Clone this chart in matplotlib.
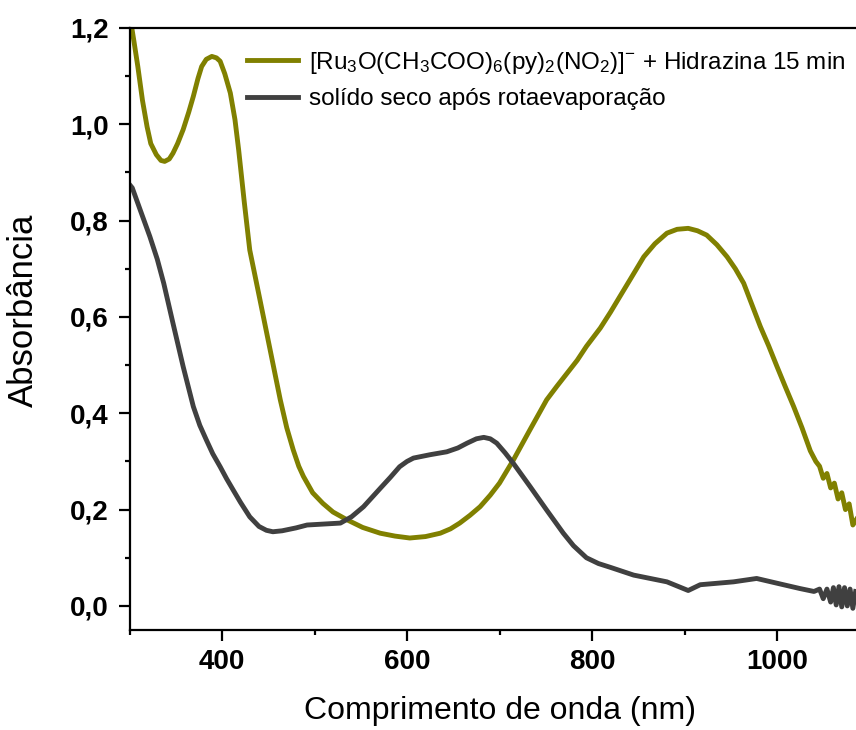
import numpy as np
import matplotlib
matplotlib.use('Agg')
import matplotlib.pyplot as plt
from matplotlib.ticker import MultipleLocator, FuncFormatter

plt.rcParams['font.family'] = ['Liberation Sans', 'DejaVu Sans']
plt.rcParams['mathtext.fontset'] = 'custom'
plt.rcParams['mathtext.rm'] = 'Liberation Sans'
plt.rcParams['mathtext.it'] = 'Liberation Sans:italic'
plt.rcParams['mathtext.bf'] = 'Liberation Sans:bold'

# Espectro 1: complexo + hidrazina 15 min
wl_hidrazina = [300, 305, 309, 314, 319, 323, 329, 334, 338, 343, 347, 352, 358, 364,
                369, 374, 378, 383, 389, 394, 398, 403, 409, 414, 418, 424, 430, 441,
                452, 463, 470, 477, 483, 488, 498, 509, 520, 535, 552, 571, 587, 603,
                620, 636, 647, 657, 668, 679, 690, 700, 715, 733, 751, 762, 773, 784,
                794, 809, 820, 830, 841, 856, 868, 881, 892, 904, 914, 924, 935, 946,
                955, 964, 973, 982, 991, 1000, 1009, 1018, 1027, 1036, 1042, 1046,
                1050, 1054, 1058, 1062, 1066, 1070, 1074, 1078, 1082, 1086]
abs_hidrazina = [1.23, 1.17, 1.12, 1.05, 0.995, 0.96, 0.937, 0.925, 0.923, 0.928, 0.94,
                 0.96, 0.989, 1.025, 1.058, 1.095, 1.12, 1.135, 1.141, 1.138, 1.131,
                 1.105, 1.065, 1.01, 0.947, 0.84, 0.739, 0.636, 0.532, 0.428, 0.37,
                 0.324, 0.29, 0.269, 0.235, 0.213, 0.195, 0.179, 0.163, 0.151, 0.145,
                 0.141, 0.144, 0.151, 0.16, 0.172, 0.188, 0.206, 0.23, 0.255, 0.303,
                 0.366, 0.428, 0.456, 0.483, 0.51, 0.539, 0.577, 0.61, 0.642, 0.677,
                 0.725, 0.752, 0.774, 0.782, 0.784, 0.779, 0.77, 0.75, 0.725, 0.70,
                 0.67, 0.625, 0.58, 0.54, 0.497, 0.455, 0.414, 0.37, 0.322, 0.30,
                 0.29, 0.265, 0.275, 0.245, 0.255, 0.222, 0.235, 0.20, 0.212, 0.168,
                 0.18]

# Espectro 2: solido seco apos rotaevaporacao
wl_solido = [300, 303, 312, 322, 330, 337, 347, 358, 369, 376, 383, 390, 398, 405,
             412, 420, 430, 440, 448, 455, 465, 480, 492, 510, 528, 540, 553, 562,
             571, 582, 592, 600, 607, 625, 643, 655, 665, 675, 683, 690, 697, 706,
             715, 733, 751, 769, 780, 794, 807, 820, 845, 881, 904, 917, 953, 978,
             1007, 1025, 1040, 1046, 1050, 1054, 1058, 1061, 1064, 1067, 1070, 1073,
             1076, 1079, 1082, 1085]
abs_solido = [0.875, 0.868, 0.82, 0.767, 0.72, 0.67, 0.587, 0.497, 0.414, 0.375, 0.345,
              0.316, 0.289, 0.264, 0.241, 0.215, 0.185, 0.165, 0.157, 0.154, 0.156,
              0.162, 0.168, 0.17, 0.172, 0.185, 0.206, 0.225, 0.244, 0.267, 0.289,
              0.30, 0.307, 0.314, 0.32, 0.328, 0.338, 0.347, 0.35, 0.347, 0.338,
              0.318, 0.296, 0.248, 0.199, 0.151, 0.125, 0.10, 0.088, 0.08, 0.064,
              0.05, 0.032, 0.044, 0.05, 0.057, 0.044, 0.036, 0.03, 0.035, 0.015,
              0.035, 0.008, 0.038, 0.002, 0.04, -0.002, 0.038, 0.0, 0.035, -0.005,
              0.03]

label_hidrazina = (r'[Ru$_3$O(CH$_3$COO)$_6$(py)$_2$(NO$_2$)]$^{-}$'
                   ' + Hidrazina 15 min')
label_solido = 'solído seco após rotaevaporação'

fig = plt.figure(figsize=(8.56, 7.30), dpi=100)
ax = fig.add_axes([129.5 / 856, 100 / 730, 740 / 856, 602 / 730])

ax.plot(wl_hidrazina, abs_hidrazina, color='#808000', lw=3.5, label=label_hidrazina)
ax.plot(wl_solido, abs_solido, color='#404040', lw=3.5, label=label_solido)

ax.set_xlim(300, 1100)
ax.set_ylim(-0.05, 1.2)

ax.xaxis.set_major_locator(MultipleLocator(200))
ax.xaxis.set_minor_locator(MultipleLocator(100))
ax.yaxis.set_major_locator(MultipleLocator(0.2))
ax.yaxis.set_minor_locator(MultipleLocator(0.1))
ax.yaxis.set_major_formatter(FuncFormatter(lambda v, p: f'{v:.1f}'.replace('.', ',')))
ax.xaxis.set_major_formatter(FuncFormatter(lambda v, p: f'{v:.0f}'))

for s in ax.spines.values():
    s.set_linewidth(1.6)
ax.tick_params(which='major', direction='out', length=8, width=1.6, labelsize=20)
ax.tick_params(axis='x', which='major', pad=6)
ax.tick_params(axis='y', which='major', pad=7)
ax.tick_params(which='minor', direction='out', length=3.8, width=1.6)
ax.tick_params(top=False, right=False, which='both')
for lab in ax.get_xticklabels() + ax.get_yticklabels():
    lab.set_fontweight('bold')

ax.set_xlabel('Comprimento de onda (nm)', fontsize=23, labelpad=15)
ax.set_ylabel('Absorbância', fontsize=25)
ax.yaxis.set_label_coords((40 - 129.5) / 740, (630 - 310) / 602)

ax.legend(loc='upper left', bbox_to_anchor=(247 / 856, 1 - 50 / 730),
          bbox_transform=fig.transFigure, frameon=False, fontsize=17.5,
          handlelength=2.1, handletextpad=0.45, labelspacing=0.5,
          borderaxespad=0, borderpad=0)

fig.savefig('out.png', dpi=100)
